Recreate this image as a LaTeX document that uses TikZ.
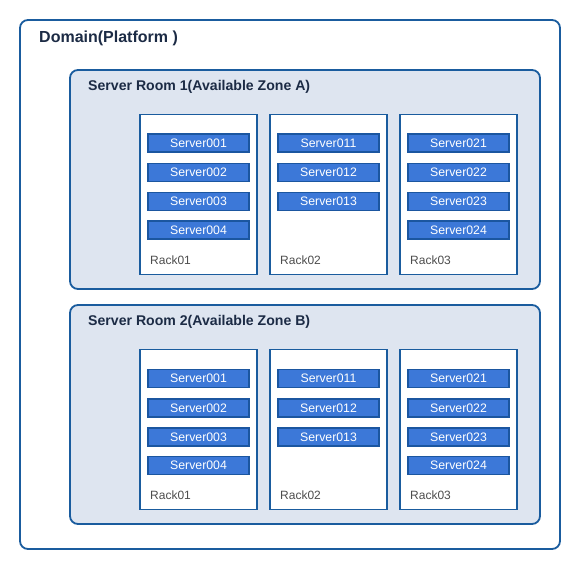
\documentclass[tikz,border=0pt]{standalone}
\usepackage{fontspec}
\setmainfont{Liberation Sans}
\definecolor{frameblue}{HTML}{1A5C9E}
\definecolor{roomfill}{HTML}{DEE5F0}
\definecolor{srvfill}{HTML}{3C78D8}
\definecolor{srvline}{HTML}{1B56A0}
\definecolor{titlenavy}{HTML}{1C2B45}
\definecolor{rackgray}{HTML}{4D4D4D}
\tikzset{
  domainbox/.style = {draw=frameblue, line width=1.8pt, fill=white, rounded corners=8pt,
                      minimum width=540pt, minimum height=529pt, inner sep=0pt},
  roombox/.style   = {draw=frameblue, line width=1.8pt, fill=roomfill, rounded corners=8pt,
                      minimum width=470pt, minimum height=219pt, inner sep=0pt},
  rackbox/.style   = {draw=frameblue, line width=1.8pt, fill=white,
                      minimum width=117pt, minimum height=160pt, inner sep=0pt},
  srvbox/.style    = {draw=srvline, line width=1.6pt, fill=srvfill, text=white,
                      minimum width=101pt, minimum height=18pt, inner sep=0pt,
                      font=\fontsize{12.3}{14}\selectfont},
  racklabel/.style = {anchor=west, text=rackgray, inner sep=0pt, font=\fontsize{12}{14}\selectfont},
  roomlabel/.style = {anchor=west, text=titlenavy, inner sep=0pt, font=\fontsize{14.1}{16}\selectfont\bfseries}
}
\begin{document}
\begin{tikzpicture}[x=1pt, y=-1pt]
            \useasboundingbox (0,0) rectangle (580,570);
            % Domain
            \node [domainbox] (domain) at (290,284.5) {};
            \node [anchor=west, text=titlenavy, inner sep=0pt, font=\fontsize{16}{18}\selectfont\bfseries] (domainlabel) at (39,38.5) {Domain(Platform )};
            % Server Room 1
            \node [roombox] (room1) at (305,179.5) {};
            \node [roomlabel] (room1label) at (88,87) {Server Room 1(Available Zone A)};
            \node [rackbox] (rackA1) at (198.5,194.5) {};
            \node [rackbox] (rackA2) at (328.5,194.5) {};
            \node [rackbox] (rackA3) at (458.5,194.5) {};
            \node [srvbox] (srvA001) at (198.5,143) {Server001};
            \node [srvbox] (srvA002) at (198.5,172.5) {Server002};
            \node [srvbox] (srvA003) at (198.5,201.5) {Server003};
            \node [srvbox] (srvA004) at (198.5,230) {Server004};
            \node [srvbox] (srvA011) at (328.5,143) {Server011};
            \node [srvbox] (srvA012) at (328.5,172.5) {Server012};
            \node [srvbox] (srvA013) at (328.5,201.5) {Server013};
            \node [srvbox] (srvA021) at (458.5,143) {Server021};
            \node [srvbox] (srvA022) at (458.5,172.5) {Server022};
            \node [srvbox] (srvA023) at (458.5,201.5) {Server023};
            \node [srvbox] (srvA024) at (458.5,230) {Server024};
            \node [racklabel] (rackA1label) at (150,260) {Rack01};
            \node [racklabel] (rackA2label) at (280,260) {Rack02};
            \node [racklabel] (rackA3label) at (410,260) {Rack03};
            % Server Room 2
            \node [roombox] (room2) at (305,414.5) {};
            \node [roomlabel] (room2label) at (88,322) {Server Room 2(Available Zone B)};
            \node [rackbox] (rackB1) at (198.5,429.5) {};
            \node [rackbox] (rackB2) at (328.5,429.5) {};
            \node [rackbox] (rackB3) at (458.5,429.5) {};
            \node [srvbox] (srvB001) at (198.5,378.5) {Server001};
            \node [srvbox] (srvB002) at (198.5,408) {Server002};
            \node [srvbox] (srvB003) at (198.5,437) {Server003};
            \node [srvbox] (srvB004) at (198.5,465.5) {Server004};
            \node [srvbox] (srvB011) at (328.5,378.5) {Server011};
            \node [srvbox] (srvB012) at (328.5,408) {Server012};
            \node [srvbox] (srvB013) at (328.5,437) {Server013};
            \node [srvbox] (srvB021) at (458.5,378.5) {Server021};
            \node [srvbox] (srvB022) at (458.5,408) {Server022};
            \node [srvbox] (srvB023) at (458.5,437) {Server023};
            \node [srvbox] (srvB024) at (458.5,465.5) {Server024};
            \node [racklabel] (rackB1label) at (150,495.5) {Rack01};
            \node [racklabel] (rackB2label) at (280,495.5) {Rack02};
            \node [racklabel] (rackB3label) at (410,495.5) {Rack03};
        \end{tikzpicture}
\end{document}
